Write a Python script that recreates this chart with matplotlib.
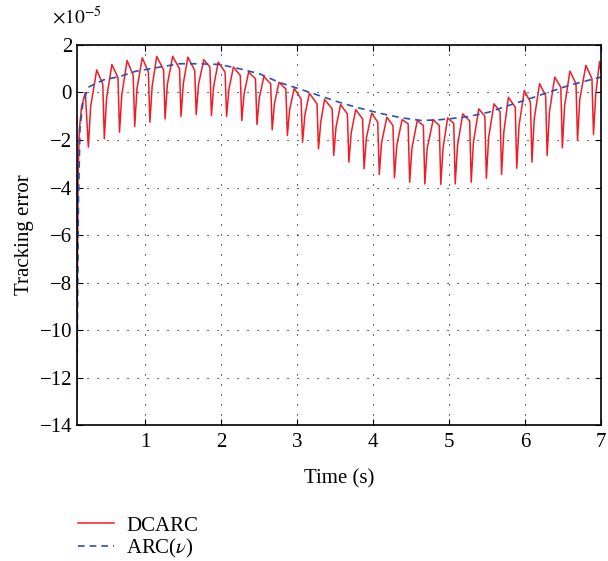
import numpy as np
import matplotlib
matplotlib.use('Agg')
import matplotlib.pyplot as plt

# Dados (erro de rastreamento em unidades de 1e-5)
# DCARC: vales, subidas, picos e "ombros" de cada ciclo
dip_t = [0.25, 0.46, 0.66, 0.86, 1.06, 1.26, 1.47, 1.67, 1.87, 2.07, 2.27, 2.47,
         2.67, 2.87, 3.07, 3.28, 3.48, 3.68, 3.88, 4.08, 4.28, 4.48, 4.68, 4.89,
         5.08, 5.29, 5.49, 5.69, 5.89, 6.09, 6.29, 6.49, 6.69, 6.90]
dip_v = [-2.30, -1.95, -1.67, -1.43, -1.25, -1.11, -1.01, -0.93, -0.97, -1.01, -1.18, -1.35,
         -1.57, -1.81, -2.09, -2.37, -2.65, -2.93, -3.21, -3.45, -3.59, -3.78, -3.85, -3.87,
         -3.85, -3.78, -3.61, -3.45, -3.19, -2.93, -2.65, -2.33, -2.02, -1.77]
rise_v = [-0.60, -0.23, -0.10, 0.16, 0.27, 0.34, 0.37, 0.34, 0.27, 0.13, -0.06, -0.24,
          -0.47, -0.72, -0.96, -1.23, -1.47, -1.71, -1.92, -2.12, -2.24, -2.35, -2.36, -2.33,
          -2.23, -2.08, -1.89, -1.66, -1.39, -1.12, -0.83, -0.55, -0.28, -0.08]
peak_t = [0.36, 0.56, 0.76, 0.96, 1.15, 1.36, 1.56, 1.77, 1.96, 2.16, 2.36, 2.56,
          2.76, 2.96, 3.16, 3.36, 3.57, 3.77, 3.98, 4.18, 4.38, 4.58, 4.79, 4.98,
          5.18, 5.39, 5.59, 5.78, 5.99, 6.19, 6.39, 6.59, 6.80, 6.98]
peak_v = [0.95, 1.18, 1.35, 1.46, 1.52, 1.52, 1.49, 1.38, 1.28, 1.07, 0.86, 0.67,
          0.43, 0.18, -0.03, -0.29, -0.51, -0.72, -0.87, -1.04, -1.14, -1.18, -1.14, -1.07,
          -0.90, -0.69, -0.48, -0.20, 0.08, 0.37, 0.65, 0.90, 1.14, 1.30]
shoulder_v = [0.35, 0.62, 0.72, 0.86, 0.95, 1.00, 0.93, 1.07, 0.86, 0.72, 0.58, 0.37,
              0.15, -0.27, -0.48, -0.69, -0.90, -1.11, -1.25, -1.39, -1.32, -1.39, -1.39, -1.30,
              -1.20, -1.00, -0.80, -0.62, -0.41, -0.13, 0.22, 0.37, 0.58]
# transitório inicial e ponto final do DCARC
start_t = [0.10, 0.105, 0.115, 0.13, 0.16, 0.21]
start_v = [-12.9, -8.0, -3.5, -1.6, -0.6, 0.0]
end_t, end_v = 7.0, 0.85

# ARC(v)
arc_t = [0.10, 0.11, 0.12, 0.14, 0.18, 0.25, 0.34, 0.45, 0.66, 0.88, 1.19, 1.45, 1.71,
         1.98, 2.24, 2.50, 2.76, 3.03, 3.29, 3.55, 3.81, 4.12, 4.38, 4.64, 4.86, 5.00,
         5.26, 5.52, 5.78, 6.05, 6.31, 6.57, 6.83, 7.00]
arc_v = [-12.5, -8.0, -4.5, -1.5, -0.4, 0.22, 0.37, 0.53, 0.67, 0.90, 1.07, 1.21, 1.21,
         1.18, 1.00, 0.79, 0.43, 0.15, -0.13, -0.41, -0.65, -0.90, -1.07, -1.18, -1.15, -1.11,
         -1.01, -0.83, -0.55, -0.27, 0.01, 0.29, 0.51, 0.65]

yticks = [-14, -12, -10, -8, -6, -4, -2, 0, 2]
xticks = [1, 2, 3, 4, 5, 6, 7]

# Montar a curva do DCARC
red_t = list(start_t)
red_v = list(start_v)
for i in range(len(dip_t)):
    red_t += [dip_t[i], dip_t[i] + 0.03, peak_t[i]]
    red_v += [dip_v[i], rise_v[i], peak_v[i]]
    if i < len(shoulder_v):
        red_t.append(dip_t[i + 1] - 0.02)
        red_v.append(shoulder_v[i])
red_t.append(end_t)
red_v.append(end_v)

plt.rcParams['font.family'] = ['Liberation Serif', 'DejaVu Serif']
plt.rcParams['mathtext.fontset'] = 'stix'
plt.rcParams['axes.unicode_minus'] = True

fig = plt.figure(figsize=(6.08, 5.61), dpi=100)
ax = fig.add_axes([0.1266, 0.2424, 0.862, 0.6774])

ax.plot(red_t, red_v, color='#f21c26', linewidth=1.1, label='DCARC')
ax.plot(arc_t, arc_v, color='#2a4fb8', linewidth=1.2, linestyle=(0, (4, 3)), label=r'ARC($\nu$)')

ax.set_xlim(0.1, 7)
ax.set_ylim(-14, 2)
ax.set_xticks(xticks)
ax.set_yticks(yticks)
ax.set_yticklabels([f'{v}'.replace('-', '\u2212') for v in yticks])

# Fator de escala acima do eixo
ax.text(-0.048, 1.045, r'$\times 10^{-5}$', transform=ax.transAxes, fontsize=14,
        ha='left', va='bottom')

ax.tick_params(direction='in', top=True, right=True, labelsize=15, length=4, width=0.8)
ax.tick_params(axis='x', pad=6)
ax.grid(True, color='black', linestyle=(0, (1, 8)), linewidth=0.8)
for s in ax.spines.values():
    s.set_linewidth(1.2)

ax.set_xlabel('Time (s)', fontsize=15, labelpad=12)
ax.set_ylabel('Tracking error', fontsize=15, labelpad=4)

fig.legend(loc='upper left', bbox_to_anchor=(0.115, 0.095), frameon=False, fontsize=15,
           handlelength=1.7, handletextpad=0.6, labelspacing=0.05, borderaxespad=0)

fig.savefig('out.png', dpi=100)
